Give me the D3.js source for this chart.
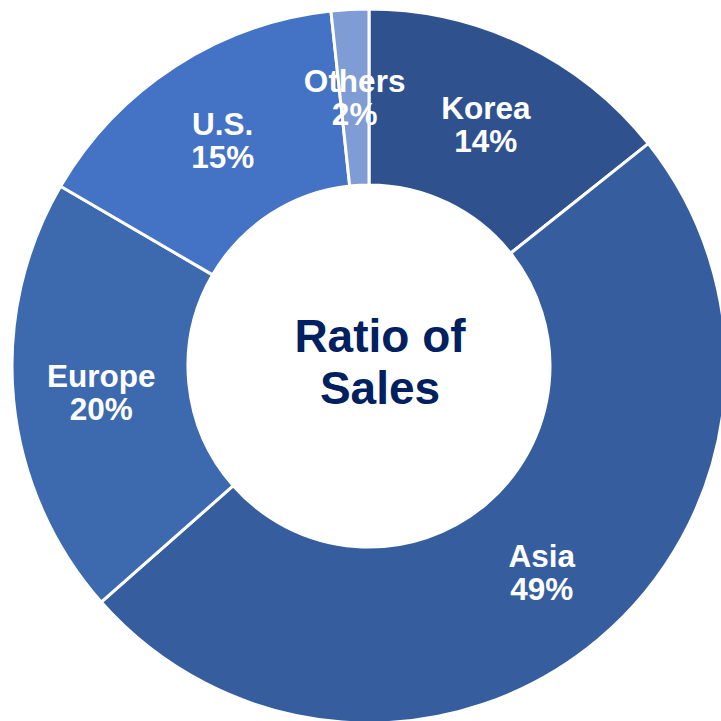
<!DOCTYPE html>
<html>
<head>
<meta charset="utf-8">
<script src="https://cdn.jsdelivr.net/npm/d3@7"></script>
<style>
html,body{margin:0;padding:0;background:#fff;overflow:hidden;}
svg{display:block;}
</style>
</head>
<body>
<svg id="chart" width="721" height="721"></svg>
<script>
const categories = ["Korea", "Asia", "Europe", "U.S.", "Others"];
const values = [14.3, 49.2, 19.9, 14.9, 1.7];
const colors = ["#2F528F", "#365E9F", "#3D69AF", "#4472C4", "#7F9CD4"];
const titleLines = ["Ratio of", "Sales"];

const svg = d3.select("#chart");
const cx = 369, cy = 366, outerR = 357, innerR = 181;

const data = categories.map((c, i) => ({name: c, value: values[i], color: colors[i]}));
const pie = d3.pie().value(d => d.value).sort(null).startAngle(0).endAngle(2 * Math.PI);
const arc = d3.arc().innerRadius(innerR).outerRadius(outerR);
const arcs = pie(data);

const g = svg.append("g").attr("transform", `translate(${cx},${cy})`);
g.selectAll("path.slice").data(arcs).enter().append("path")
  .attr("class", "slice")
  .attr("d", arc)
  .attr("fill", d => d.data.color)
  .attr("stroke", "#fff")
  .attr("stroke-width", 3)
  .attr("stroke-linejoin", "miter");

const total = d3.sum(values);
const labels = g.selectAll("text.lbl").data(arcs).enter().append("text")
  .attr("class", "lbl")
  .attr("text-anchor", "middle")
  .attr("fill", "#fff")
  .attr("font-family", "'Liberation Sans', Arial, sans-serif")
  .attr("font-weight", "bold")
  .attr("font-size", 31.5)
  .attr("transform", d => { const c = arc.centroid(d); return `translate(${c[0]},${c[1]})`; });
labels.append("tspan").attr("x", 0).attr("y", -5).text(d => d.data.name);
labels.append("tspan").attr("x", 0).attr("y", 28).text(d => Math.round(d.data.value / total * 100) + "%");

const title = svg.append("text")
  .attr("text-anchor", "middle")
  .attr("fill", "#002060")
  .attr("font-family", "'Liberation Sans', Arial, sans-serif")
  .attr("font-weight", "bold")
  .attr("font-size", 46);
title.append("tspan").attr("x", 380).attr("y", cy - 14).text(titleLines[0]);
title.append("tspan").attr("x", 380).attr("y", cy + 38).text(titleLines[1]);
</script>
</body>
</html>
